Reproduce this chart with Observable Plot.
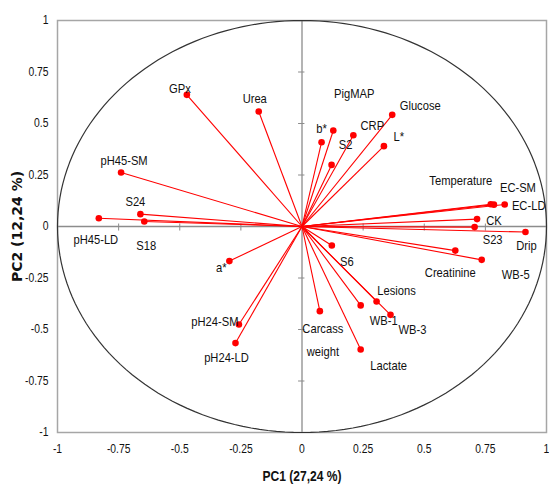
<!DOCTYPE html>
<html><head><meta charset="utf-8">
<script src="https://cdn.jsdelivr.net/npm/d3@7"></script>
<script src="https://cdn.jsdelivr.net/npm/@observablehq/plot@0.6"></script>
<style>body{margin:0;background:#fff}</style>
</head><body><div id="chart"></div>
<script>
// ---- data (loadings) ----
const variables = ["GPx","Urea","pH45-SM","S24","pH45-LD","S18","a*","pH24-SM","pH24-LD",
  "PigMAP","b*","CRP","S2","Glucose","L*","Temperature","EC-SM","EC-LD","CK","S23","Drip",
  "Creatinine","WB-5","S6","Lesions","WB-1","WB-3","Carcass\nweight","Lactate"];
const pc1 = [-0.471,-0.177,-0.740,-0.661,-0.831,-0.645,-0.297,-0.258,-0.272,
  0.128,0.080,0.210,0.121,0.369,0.335,0.772,0.785,0.829,0.716,0.706,0.914,
  0.627,0.735,0.122,0.305,0.240,0.362,0.073,0.240];
const pc2 = [0.639,0.558,0.262,0.060,0.040,0.024,-0.168,-0.476,-0.566,
  0.466,0.409,0.443,0.299,0.542,0.390,0.108,0.106,0.107,0.036,-0.003,-0.027,
  -0.117,-0.162,-0.092,-0.364,-0.383,-0.429,-0.411,-0.597];
const tickValues = [-1,-0.75,-0.5,-0.25,0,0.25,0.5,0.75,1];
const innerTicks = [-0.75,-0.5,-0.25,0.25,0.5,0.75];
const xTitle = "PC1 (27,24 %)";
const yTitle = "PC2 (12,24 %)";

// ---- layout (label offsets in pixels, per variable) ----
const labelDx = [-7,-4,3,-5,-3,2,-8,-24,-9, 21,0,19,14,28,15,-30,24,24,17,18,1, -5,34,15,20,23,22,3,28];
const labelDy = [-9,-16,-15,-15,18,21,4,-6,12, -40,-17,-13,-23,-12,-12,-27,-20,-2,-1,10,11, 19,12,13,-14,12,12,26,13];

const rows = variables.map((v, i) => ({name: v, pc1: pc1[i], pc2: pc2[i]}));

// correlation circle geometry (unit circle)
const circle = d3.range(0, 361, 2).map(a => ({x: Math.cos(a * Math.PI / 180), y: Math.sin(a * Math.PI / 180)}));

const sans = "'Liberation Sans', Arial, sans-serif";
const red = "#ff0000";
const fmt = d => String(d);

const labelMarks = rows.map((r, i) => Plot.text([r], {
  x: "pc1", y: "pc2", text: "name", dx: labelDx[i], dy: labelDy[i],
  textAnchor: "middle", lineAnchor: "middle", lineHeight: 1.75,
  fontSize: 13, fontFamily: sans, fill: "#111"
}));

const chart = Plot.plot({
  width: 549, height: 486,
  marginLeft: 57, marginRight: 3, marginTop: 20, marginBottom: 54,
  style: {fontFamily: sans, fontSize: "12px", color: "#111", background: "#fff"},
  x: {domain: [-1, 1], ticks: tickValues, tickFormat: fmt, tickSize: 0, tickPadding: 12, label: null},
  y: {domain: [-1, 1], ticks: tickValues, tickFormat: fmt, tickSize: 0, tickPadding: 9, label: null},
  marks: [
    Plot.ruleX([0], {stroke: "#8c8c8c", strokeWidth: 1.3}),
    Plot.ruleY([0], {stroke: "#8c8c8c", strokeWidth: 1.3}),
    Plot.ruleX(innerTicks, {y1: -0.022, y2: 0.012, stroke: "#8c8c8c", strokeWidth: 1}),
    Plot.ruleY(innerTicks, {x1: -0.014, x2: 0.012, stroke: "#8c8c8c", strokeWidth: 1}),
    Plot.frame({stroke: "#a6a6a6", strokeWidth: 1.5}),
    Plot.line(circle, {x: "x", y: "y", stroke: "#333", strokeWidth: 1.2}),
    Plot.link(rows, {x1: 0, y1: 0, x2: "pc1", y2: "pc2", stroke: red, strokeWidth: 1.1}),
    Plot.dot(rows, {x: "pc1", y: "pc2", r: 3.3, fill: red}),
    ...labelMarks,
    Plot.text([xTitle], {frameAnchor: "bottom", dy: 48, text: d => d, fontSize: 14, fontWeight: "bold",
      fontFamily: sans, fill: "#111", textAnchor: "middle"}),
    Plot.text([yTitle], {frameAnchor: "left", dx: -40, rotate: -90, text: d => d, fontSize: 14, fontWeight: "bold",
      fontFamily: "'DejaVu Sans', sans-serif", fill: "#111", textAnchor: "middle"})
  ]
});
document.getElementById("chart").appendChild(chart);

// the reference uses a condensed face: squeeze horizontal texts to match
chart.querySelectorAll("text").forEach(t => {
  if (t.textContent === yTitle) return;
  const parts = t.querySelectorAll("tspan");
  const targets = parts.length ? Array.from(parts) : [t];
  targets.forEach(el => {
    const len = el.getComputedTextLength();
    if (len > 0) {
      el.setAttribute("textLength", (len * 0.86).toFixed(1));
      el.setAttribute("lengthAdjust", "spacingAndGlyphs");
    }
  });
});
</script></body></html>
